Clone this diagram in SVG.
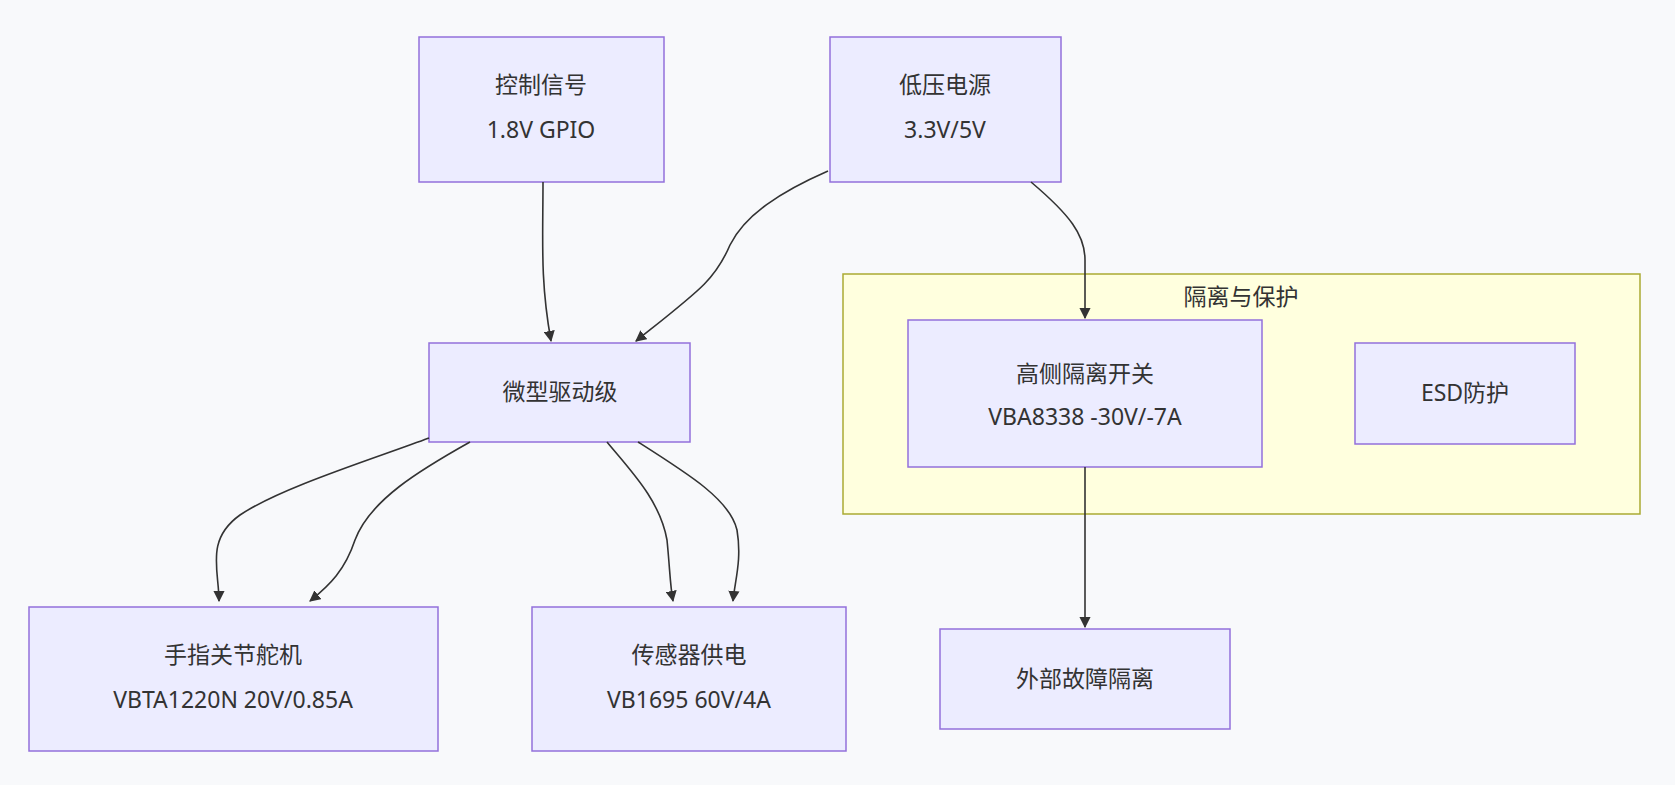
<svg xmlns="http://www.w3.org/2000/svg" width="1675" height="785" viewBox="0 0 1675 785">
<style>
.n rect{fill:#ECECFF;stroke:#9370DB;stroke-width:1.5}
text{font-family:"Noto Sans","Noto Sans CJK SC",sans-serif;font-size:23px;fill:#333;text-anchor:middle}
.e path{fill:none;stroke:#333;stroke-width:1.6;marker-end:url(#a)}
</style>
<defs><marker id="a" viewBox="0 0 10 10" refX="9" refY="5" markerWidth="7" markerHeight="7" orient="auto"><path d="M0,0L10,5L0,10z" fill="#333"/></marker></defs>
<rect width="1675" height="785" fill="#F8F9FB"/>
<g id="cluster"><rect x="843" y="274" width="797" height="240" fill="#FFFFDE" stroke="#AAAA33" stroke-width="1.5"/><text x="1241" y="305">隔离与保护</text></g>
<g id="ctrl" class="n"><rect x="419" y="37" width="245" height="145"/><text x="541" y="93">控制信号</text><text x="541" y="138">1.8V GPIO</text></g>
<g id="lv" class="n"><rect x="830" y="37" width="231" height="145"/><text x="945" y="93">低压电源</text><text x="945" y="138">3.3V/5V</text></g>
<g id="drv" class="n"><rect x="429" y="343" width="261" height="99"/><text x="560" y="400">微型驱动级</text></g>
<g id="hs" class="n"><rect x="908" y="320" width="354" height="147"/><text x="1085" y="382">高侧隔离开关</text><text x="1085" y="425">VBA8338 -30V/-7A</text></g>
<g id="esd" class="n"><rect x="1355" y="343" width="220" height="101"/><text x="1465" y="401">ESD防护</text></g>
<g id="servo" class="n"><rect x="29" y="607" width="409" height="144"/><text x="233" y="663">手指关节舵机</text><text x="233" y="708">VBTA1220N 20V/0.85A</text></g>
<g id="sens" class="n"><rect x="532" y="607" width="314" height="144"/><text x="689" y="663">传感器供电</text><text x="689" y="708">VB1695 60V/4A</text></g>
<g id="ext" class="n"><rect x="940" y="629" width="290" height="100"/><text x="1085" y="687">外部故障隔离</text></g>
<g id="connectors" class="e">
<path d="M543,182 C543,240 540,280 551,341"/>
<path d="M828,171 C780,192 745,215 730,245 C715,280 700,290 636,341"/>
<path d="M1031,182 C1070,215 1085,235 1085,260 L1085,318"/>
<path d="M429,438 C370,460 280,488 240,515 C205,540 219,570 219,601"/>
<path d="M470,442 C420,470 370,500 355,540 C345,570 330,585 310,601"/>
<path d="M607,442 C630,470 660,500 667,540 C670,570 670,585 673,601"/>
<path d="M638,442 C690,475 730,500 737,530 C742,560 735,580 733,601"/>
<path d="M1085,467 L1085,627"/>
</g>
</svg>
